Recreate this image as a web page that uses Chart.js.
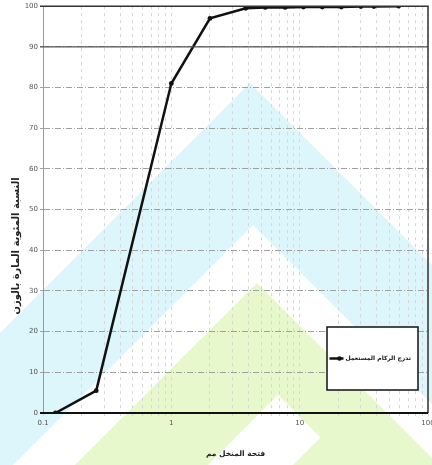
<!DOCTYPE html>
<html>
<head>
<meta charset="utf-8">
<script src="https://cdn.jsdelivr.net/npm/chart.js@4/dist/chart.umd.min.js"></script>
<style>
  html, body { margin: 0; padding: 0; background: #fff; }
  #wrap { width: 432px; height: 465px; }
</style>
</head>
<body>
<div id="wrap"><canvas id="gradingChart" width="432" height="465"></canvas></div>
<script>
// sieve opening (mm) and cumulative % passing
const sieveSizes = [0.125, 0.26, 1, 2, 3.8, 5.4, 7.7, 10.7, 15, 21.1, 30, 37.9, 59];
const percentPassing = [0, 5.5, 81, 97, 99.5, 99.7, 99.7, 99.8, 99.8, 99.8, 99.9, 99.9, 100];

const seriesLabel = "تدرج الركام المستعمل";
const xTitle = "فتحة المنخل مم";
const yTitle = "النسبة المئوية المارة بالوزن";

// log grid: decades and the significands drawn in each
const decades = [0.1, 1, 10];
const significands = [1, 2, 3, 4, 5, 6, 7, 8, 9];
const labelledTicks = [0.1, 1, 10, 100];

const xTickValues = [];
decades.forEach(d => significands.forEach(s => xTickValues.push(+(d * s).toPrecision(3))));
xTickValues.push(100);

const arabicFont = "'DejaVu Sans', sans-serif";

// background watermark (chevrons) + white page
const watermark = {
  id: "watermark",
  beforeDraw(chart) {
    const ctx = chart.ctx;
    const H = chart.height;
    ctx.save();
    ctx.fillStyle = "#fff";
    ctx.fillRect(0, 0, chart.width, H);
    function tri(x, y, color) {
      const d = H + 200 - y;
      ctx.beginPath();
      ctx.moveTo(x, y);
      ctx.lineTo(x - d, y + d);
      ctx.lineTo(x + d, y + d);
      ctx.closePath();
      ctx.fillStyle = color;
      ctx.fill();
    }
    tri(250, 83, "rgb(220,246,251)");
    tri(253, 225, "#fff");
    tri(257, 283, "rgb(230,248,204)");
    tri(278, 395, "#fff");
    tri(360, 398, "rgb(230,248,204)");
    ctx.restore();
  }
};

// frame lines, 90% line, y title and the boxed legend
const frame = {
  id: "frame",
  afterDatasetsDraw(chart) {
    const {ctx, chartArea: a, scales: {y}} = chart;
    ctx.save();
    ctx.setLineDash([]);
    ctx.strokeStyle = "#555";
    ctx.lineWidth = 1.2;
    const y90 = y.getPixelForValue(90);
    ctx.beginPath();
    ctx.moveTo(a.left - 3, y90);
    ctx.lineTo(a.right, y90);
    ctx.stroke();
    ctx.strokeStyle = "#333";
    ctx.lineWidth = 1.5;
    ctx.beginPath();
    ctx.moveTo(a.left - 3, a.top);
    ctx.lineTo(a.right, a.top);
    ctx.lineTo(a.right, a.bottom);
    ctx.stroke();
    ctx.strokeStyle = "#111";
    ctx.lineWidth = 2;
    ctx.beginPath();
    ctx.moveTo(a.left - 3, a.bottom);
    ctx.lineTo(a.right, a.bottom);
    ctx.stroke();

    // y title
    ctx.translate(16, 246);
    ctx.rotate(-Math.PI / 2);
    ctx.fillStyle = "#222";
    ctx.font = "bold 10px " + arabicFont;
    ctx.textAlign = "center";
    ctx.textBaseline = "middle";
    ctx.fillText(yTitle, 0, 0);
    ctx.setTransform(1, 0, 0, 1, 0, 0);

    // legend box
    const bx = a.right - 101, by = a.bottom - 86, bw = 91, bh = 63;
    ctx.fillStyle = "#fff";
    ctx.fillRect(bx, by, bw, bh);
    ctx.strokeStyle = "#111";
    ctx.lineWidth = 1.5;
    ctx.strokeRect(bx, by, bw, bh);
    const ly = by + bh / 2;
    ctx.font = "bold 6px " + arabicFont;
    const tw = ctx.measureText(chart.data.datasets[0].label).width;
    const tx = bx + bw - 7 - tw;
    ctx.lineWidth = 2.5;
    ctx.beginPath();
    ctx.moveTo(tx - 16, ly);
    ctx.lineTo(tx - 2, ly);
    ctx.stroke();
    ctx.beginPath();
    ctx.arc(tx - 6, ly, 2.2, 0, Math.PI * 2);
    ctx.fillStyle = "#111";
    ctx.fill();
    ctx.textAlign = "left";
    ctx.textBaseline = "middle";
    ctx.fillText(chart.data.datasets[0].label, tx, ly);
    ctx.restore();
  }
};

const ctx = document.getElementById("gradingChart").getContext("2d");
new Chart(ctx, {
  type: "line",
  data: {
    datasets: [{
      label: seriesLabel,
      data: sieveSizes.map((s, i) => ({x: s, y: percentPassing[i]})),
      borderColor: "#111",
      backgroundColor: "#111",
      borderWidth: 2.5,
      pointRadius: 2.4,
      pointBorderWidth: 0,
      tension: 0
    }]
  },
  options: {
    responsive: false,
    animation: false,
    layout: { padding: { top: 6, right: 4, left: 0, bottom: 0 } },
    plugins: {
      legend: { display: false },
      tooltip: { enabled: false }
    },
    scales: {
      x: {
        type: "logarithmic",
        min: 0.1,
        max: 100,
        afterBuildTicks: axis => { axis.ticks = xTickValues.map(v => ({value: v})); },
        afterFit: scale => { scale.height = 52; scale.paddingLeft = 0; scale.paddingRight = 0; },
        ticks: {
          autoSkip: false,
          maxRotation: 0,
          padding: 3,
          color: "#555",
          font: { family: "'DejaVu Sans'", size: 7 },
          callback: v => labelledTicks.includes(v) ? String(v) : ""
        },
        grid: { color: "#d6d6d6", lineWidth: 1, tickLength: 3 },
        border: { display: false, dash: [3, 4] },
        title: {
          display: true,
          text: xTitle,
          color: "#222",
          font: { family: arabicFont, size: 7.5, weight: "bold" },
          padding: { top: 0, bottom: 6 }
        }
      },
      y: {
        min: 0,
        max: 100,
        afterFit: scale => { scale.width = 43; },
        ticks: {
          stepSize: 10,
          padding: 2,
          color: "#555",
          font: { family: "'DejaVu Sans'", size: 7 }
        },
        grid: { color: "#a0a0a0", lineWidth: 1, tickLength: 3 },
        border: { display: true, color: "#999", dash: [6, 2, 1, 2] }
      }
    }
  },
  plugins: [watermark, frame]
});
</script>
</body>
</html>
